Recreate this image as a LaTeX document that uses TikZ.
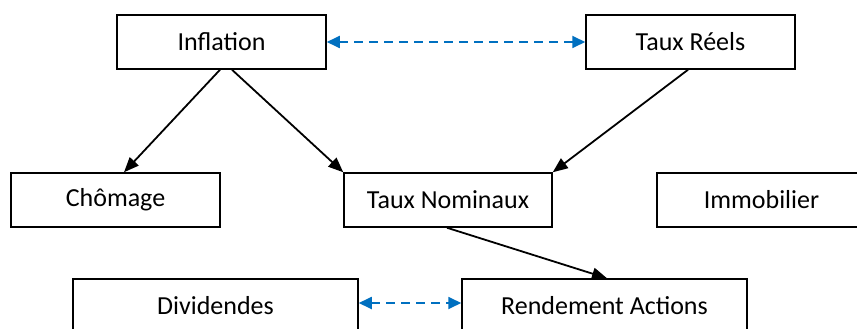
\documentclass[tikz,border=0pt]{standalone}
\usepackage{fontspec}
\setmainfont{Carlito}
\usetikzlibrary{arrows.meta}
\definecolor{linkblue}{RGB}{0,112,192}
\begin{document}
\begin{tikzpicture}[x=1pt,y=-1pt,
  box/.style={draw, line width=1.5pt, minimum height=54pt, inner sep=0pt,
    font=\fontsize{26}{30}\selectfont},
  cause/.style={-{Triangle[length=15pt,width=12pt]}, line width=1.8pt},
  link/.style={{Triangle[length=13pt,width=12pt]}-{Triangle[length=13pt,width=12pt]},
    linkblue, line width=1.8pt, dash pattern=on 9pt off 6pt},
]
\clip (0,0) rectangle (857,329);
\fill[white] (0,0) rectangle (857,329);

% boxes
\node[box, minimum width=209pt] (infl)  at (221.5,42)  {Inflation};
\node[box, minimum width=209pt] (reels) at (690.5,42)  {Taux Réels};
\node[box, minimum width=209pt] (chom)  at (115.5,200) {Chômage};
\node[box, minimum width=208pt] (nomi)  at (448,200)   {Taux Nominaux};
\node[box, minimum width=209pt] (immo)  at (761.5,200) {Immobilier};
\node[box, minimum width=285pt] (divid) at (215.5,306) {Dividendes};
\node[box, minimum width=285pt] (rend)  at (604.5,306) {Rendement Actions};

% causal links
\draw[cause] ([xshift=-1.5pt]infl.south) -- ([xshift=8.5pt]chom.north);
\draw[cause] ([xshift=10.5pt]infl.south) -- (nomi.north west);
\draw[cause] ([xshift=-2.5pt]reels.south) -- (nomi.north east);
\draw[cause] ([xshift=-1pt]nomi.south) -- ([xshift=2.5pt]rend.north);

% two-way relations
\draw[link] (infl.east) -- (reels.west);
\draw[link] ([yshift=3pt]divid.east) -- ([yshift=3pt]rend.west);
\end{tikzpicture}
\end{document}
